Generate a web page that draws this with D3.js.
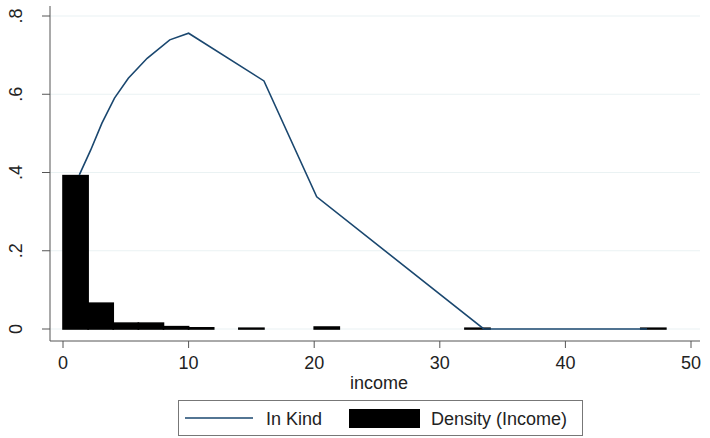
<!DOCTYPE html>
<html>
<head>
<meta charset="utf-8">
<script src="https://cdn.jsdelivr.net/npm/d3@7"></script>
<style>
  body { margin: 0; background: #fff; }
  svg { display: block; font-family: "Liberation Sans", Arial, sans-serif; }
</style>
</head>
<body>
<div id="chart"></div>
<script>
// histogram bins (start of bin, width 2) and density values
const binStart = [0, 2, 4, 6, 8, 10, 14, 20, 32, 46];
const binDensity = [0.392, 0.066, 0.015, 0.015, 0.006, 0.003, 0.002, 0.005, 0.002, 0.002];
const binWidth = 2;

// "In Kind" line
const kindX = [1.3, 2.2, 3.1, 4.1, 5.2, 6.7, 8.5, 10, 16, 20.2, 33.5, 46.5];
const kindY = [0.394, 0.457, 0.526, 0.59, 0.641, 0.692, 0.739, 0.756, 0.634, 0.338, 0, 0];

const xTicks = [0, 10, 20, 30, 40, 50];
const yTicks = [0, 0.2, 0.4, 0.6, 0.8];
const yTickLabels = ["0", ".2", ".4", ".6", ".8"];

const W = 710, H = 438;
const svg = d3.select('#chart').append('svg')
    .attr('width', W)
    .attr('height', H);

// plot region: y axis at x=50, x axis at y=341
const x = d3.scaleLinear().domain([0, 50]).range([63, 691]);
const y = d3.scaleLinear().domain([0, 0.8]).range([329, 16]);
const plotLeft = 50, plotRight = 700, plotTop = 6, plotBottom = 341;
const fontSize = 18;

// gridlines
svg.append('g').selectAll('line')
    .data(yTicks)
    .enter().append('line')
    .attr('x1', plotLeft).attr('x2', plotRight)
    .attr('y1', d => y(d)).attr('y2', d => y(d))
    .attr('stroke', '#eaf2f3')
    .attr('stroke-width', 1.2);

// histogram bars
svg.append('g').selectAll('rect')
    .data(binStart.map((s, i) => ({s: s, v: binDensity[i]})))
    .enter().append('rect')
    .attr('x', d => x(d.s))
    .attr('width', d => x(d.s + binWidth) - x(d.s))
    .attr('y', d => y(d.v))
    .attr('height', d => y(0) - y(d.v))
    .attr('fill', '#000')
    .attr('stroke', '#000')
    .attr('stroke-width', 1.6);

// line
const line = d3.line()
    .x(d => x(d[0]))
    .y(d => y(d[1]));
svg.append('path')
    .datum(kindX.map((v, i) => [v, kindY[i]]))
    .attr('d', line)
    .attr('fill', 'none')
    .attr('stroke', '#1a476f')
    .attr('stroke-width', 1.6);

// axes
const axisColor = '#555';
svg.append('line')
    .attr('x1', plotLeft).attr('x2', plotLeft)
    .attr('y1', plotTop).attr('y2', plotBottom)
    .attr('stroke', axisColor);
svg.append('line')
    .attr('x1', plotLeft).attr('x2', plotRight)
    .attr('y1', plotBottom).attr('y2', plotBottom)
    .attr('stroke', axisColor);

// y ticks
const yg = svg.append('g');
yg.selectAll('line')
    .data(yTicks)
    .enter().append('line')
    .attr('x1', plotLeft - 8).attr('x2', plotLeft)
    .attr('y1', d => y(d)).attr('y2', d => y(d))
    .attr('stroke', axisColor);
yg.selectAll('text')
    .data(yTicks)
    .enter().append('text')
    .attr('transform', d => 'translate(22,' + y(d) + ') rotate(-90)')
    .attr('text-anchor', 'middle')
    .attr('font-size', fontSize)
    .attr('fill', '#222')
    .text((d, i) => yTickLabels[i]);

// x ticks
const xg = svg.append('g');
xg.selectAll('line')
    .data(xTicks)
    .enter().append('line')
    .attr('x1', d => x(d)).attr('x2', d => x(d))
    .attr('y1', plotBottom).attr('y2', plotBottom + 7)
    .attr('stroke', axisColor);
xg.selectAll('text')
    .data(xTicks)
    .enter().append('text')
    .attr('x', d => x(d))
    .attr('y', 369)
    .attr('text-anchor', 'middle')
    .attr('font-size', fontSize)
    .attr('fill', '#222')
    .text(d => d);

svg.append('text')
    .attr('x', 379).attr('y', 389)
    .attr('text-anchor', 'middle')
    .attr('font-size', fontSize)
    .attr('fill', '#222')
    .text('income');

// legend
const lg = svg.append('g');
lg.append('rect')
    .attr('x', 178.5).attr('y', 400.5)
    .attr('width', 404).attr('height', 35)
    .attr('fill', '#fff')
    .attr('stroke', '#777');
lg.append('line')
    .attr('x1', 185).attr('x2', 253)
    .attr('y1', 418).attr('y2', 418)
    .attr('stroke', '#1a476f')
    .attr('stroke-width', 1.6);
lg.append('text')
    .attr('x', 266).attr('y', 424.5)
    .attr('font-size', fontSize)
    .attr('fill', '#222')
    .text('In Kind');
lg.append('rect')
    .attr('x', 349).attr('y', 409)
    .attr('width', 71).attr('height', 19)
    .attr('fill', '#000');
lg.append('text')
    .attr('x', 431).attr('y', 424.5)
    .attr('font-size', fontSize)
    .attr('fill', '#222')
    .text('Density (Income)');
</script>
</body>
</html>
